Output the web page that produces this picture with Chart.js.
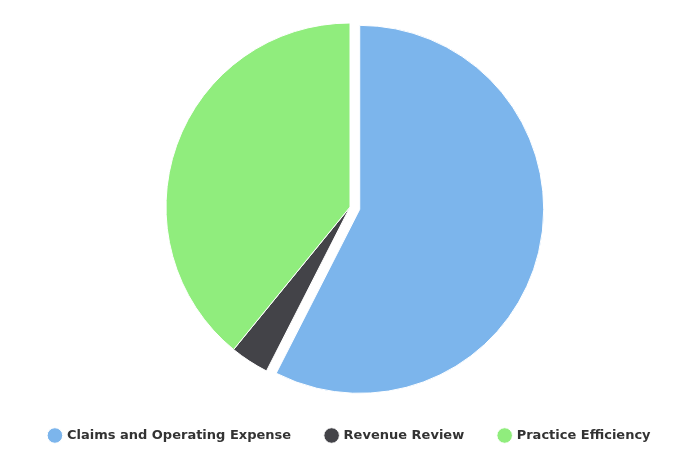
<!DOCTYPE html>
<html>
<head>
<meta charset="utf-8">
<script src="https://cdn.jsdelivr.net/npm/chart.js@4/dist/chart.umd.min.js"></script>
<style>
html,body{margin:0;padding:0;background:#fff;}
#wrap{width:700px;height:467px;position:relative;}
</style>
</head>
<body>
<div id="wrap"><canvas id="c"></canvas></div>
<script>
const categories = ["Claims and Operating Expense", "Revenue Review", "Practice Efficiency"];
const values = [57.5, 3.4, 39.1];
const colors = ["#7cb5ec", "#434348", "#90ed7d"];
const sliced = [10, 0, 0];

// Pull "sliced" arcs outward along their mid-angle without enlarging them.
const slicePlugin = {
  id: 'slicePlugin',
  afterDatasetsUpdate(chart) {
    const meta = chart.getDatasetMeta(0);
    meta.data.forEach((arc, i) => {
      const d = sliced[i] || 0;
      if (!d) return;
      const mid = (arc.startAngle + arc.endAngle) / 2;
      arc.x += Math.cos(mid) * d;
      arc.y += Math.sin(mid) * d;
    });
  }
};

new Chart(document.getElementById('c'), {
  type: 'pie',
  data: {
    labels: categories,
    datasets: [{
      data: values,
      backgroundColor: colors,
      borderColor: '#ffffff',
      borderWidth: 1,
      hoverOffset: 0,
      clip: false
    }]
  },
  options: {
    responsive: true,
    maintainAspectRatio: false,
    animation: false,
    radius: 184,
    layout: { padding: { top: 20, bottom: 15, left: 0, right: 0 } },
    plugins: {
      tooltip: { enabled: false },
      legend: {
        position: 'bottom',
        labels: {
          usePointStyle: true,
          pointStyle: 'circle',
          boxWidth: 11,
          boxHeight: 11,
          padding: 35,
          color: '#333333',
          font: { family: 'DejaVu Sans', size: 13, weight: 'bold' }
        }
      }
    }
  },
  plugins: [slicePlugin]
});
</script>
</body>
</html>
